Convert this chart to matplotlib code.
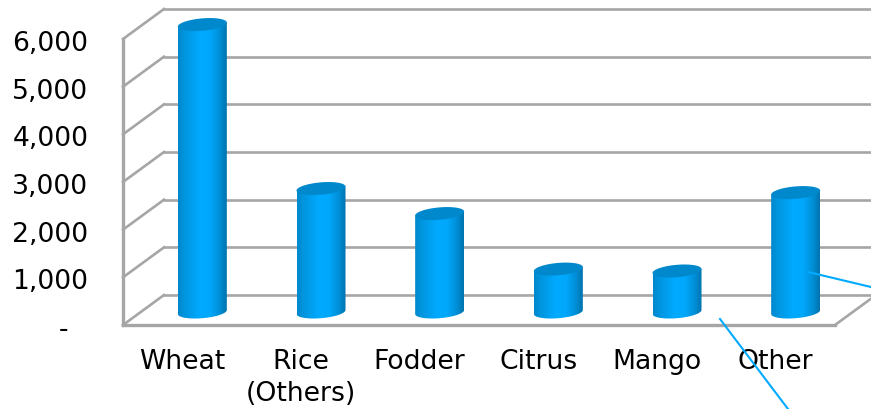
import numpy as np
import matplotlib
matplotlib.use("Agg")
import matplotlib.pyplot as plt
from matplotlib.colors import LinearSegmentedColormap
from matplotlib.lines import Line2D
from matplotlib.patches import Polygon
from matplotlib.path import Path
from matplotlib.transforms import Affine2D

categories = ["Wheat", "Rice\n(Others)", "Fodder", "Citrus", "Mango", "Other"]
values = [6030, 2590, 2065, 900, 860, 2505]
y_ticks = [0, 1000, 2000, 3000, 4000, 5000, 6000]
y_labels = ["-  \u200a", "1,000", "2,000", "3,000", "4,000", "5,000", "6,000"]

GRAY = "#a6a6a6"
BLUE = "#00aaff"
W, H = 871, 410

fig = plt.figure(figsize=(W / 100, H / 100), dpi=100)
ax = fig.add_axes([123 / W, (H - 326) / H, 712 / W, 286 / H])

# pixels to data units
px_x = 6 / 712
px_y = 6000 / 286


def shift(dx, dy):
    return ax.transData + Affine2D().translate(dx, dy)


# back wall and side wall lines
back = shift(41, 30)
ax.hlines(y_ticks, -0.5, 5.5, color=GRAY, lw=1.9, transform=back, clip_on=False, zorder=1,
          capstyle="projecting")
for v in y_ticks:
    ax.plot([-0.5, -0.5 + 41 * px_x], [v, v + 30 * px_y], color=GRAY, lw=1.9, clip_on=False, zorder=1)
ax.plot([5.5, 5.5 + 41 * px_x], [0, 30 * px_y], color=GRAY, lw=1.9, clip_on=False, zorder=1)

# cylinders
cmap = LinearSegmentedColormap.from_list(
    "cyl", [(0, "#0088cc"), (0.15, "#0096e0"), (0.45, "#00aaff"), (0.65, "#00a8fc"),
            (0.85, "#0090d8"), (1, "#0074ae")])
grad = np.linspace(0, 1, 128).reshape(1, -1)
bars = shift(20, 13)
a = 24.5 * px_x
b = 6.2 * px_y
tilt = 2 * px_y
t = np.linspace(0, 2 * np.pi, 80)
low = np.linspace(np.pi, 2 * np.pi, 40)

for i, v in enumerate(values):
    body = list(zip(i + a * np.cos(low), b * np.sin(low) + tilt * np.cos(low)))
    body += [(i + a, v + tilt), (i - a, v - tilt)]
    im = ax.imshow(grad, cmap=cmap, aspect="auto", extent=[i - a, i + a, -b - tilt, v + tilt],
                   transform=bars, zorder=3, interpolation="bilinear")
    im.set_clip_path(Path(body, closed=False), transform=bars)
    im.set_clip_box(fig.bbox)
    cap = list(zip(i + a * np.cos(t), v + b * np.sin(t) + tilt * np.cos(t)))
    ax.add_patch(Polygon(cap, closed=True, fc="#0088cc", ec="none", transform=bars, clip_on=False, zorder=4))

ax.set_xlim(-0.5, 5.5)
ax.set_ylim(0, 6000)
ax.set_xticks(range(len(categories)), categories, fontsize=19.2, color="#000000", linespacing=1.3)
ax.set_yticks(y_ticks, y_labels, fontsize=19.2, color="#000000")
ax.tick_params(axis="x", length=0, pad=16.5)
ax.tick_params(axis="y", length=0, pad=25)
for lbl in ax.get_yticklabels():
    lbl.set_transform(lbl.get_transform() + Affine2D().translate(0, -1))
ax.patch.set_visible(False)
for side in ["top", "right"]:
    ax.spines[side].set_visible(False)
for side in ["left", "bottom"]:
    ax.spines[side].set_color(GRAY)
    ax.spines[side].set_linewidth(2.4)

# leader lines left over from the pie labels
for xs, ys in [([808, 871], [273, 288]), ([720, 788], [320, 410])]:
    fig.add_artist(Line2D([x / W for x in xs], [1 - y / H for y in ys], color=BLUE, lw=1.5, zorder=5))

fig.savefig("out.png", dpi=100)
